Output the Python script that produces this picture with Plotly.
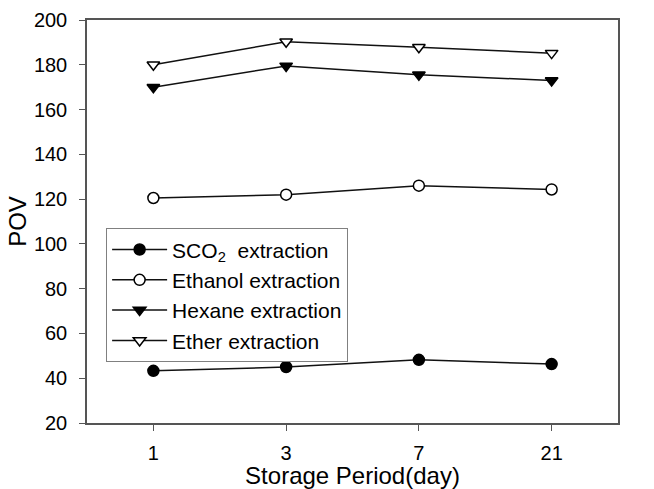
import plotly.graph_objects as go

days = ["1", "3", "7", "21"]
sco2 = [43.3, 45.0, 48.2, 46.3]
ethanol = [120.5, 122.0, 126.0, 124.3]
hexane = [170.0, 179.5, 175.5, 173.0]
ether = [180.0, 190.3, 187.8, 185.2]

series = [
    ("SCO<sub>2</sub>  extraction", sco2, "circle", True),
    ("Ethanol extraction", ethanol, "circle", False),
    ("Hexane extraction", hexane, "triangle-down", True),
    ("Ether extraction", ether, "triangle-down", False),
]

fig = go.Figure()
for name, vals, sym, filled in series:
    fig.add_trace(go.Scatter(
        x=days, y=vals, name=name, mode="lines+markers",
        line=dict(color="#111111", width=1.5),
        marker=dict(symbol=sym, size=11,
                    color="black" if filled else "white",
                    line=dict(color="black", width=1.5)),
    ))

font = "Liberation Sans, Arial, sans-serif"
fig.update_layout(
    width=654, height=489,
    margin=dict(l=87, r=36, t=20, b=66, autoexpand=False),
    paper_bgcolor="white", plot_bgcolor="white",
    font=dict(family=font, size=20, color="black"),
    showlegend=True,
    legend=dict(
        x=0.036, y=0.483, xanchor="left", yanchor="top",
        bgcolor="white", bordercolor="#808080", borderwidth=1,
        font=dict(family=font, size=21, color="black"),
        tracegroupgap=0, itemwidth=55,
    ),
    xaxis=dict(
        type="category", range=[-0.5, 3.5], automargin=False,
        showline=True, linecolor="#555555", linewidth=1.5, mirror=True,
        ticks="outside", ticklen=6, tickcolor="#555555", tickwidth=1,
        showgrid=False, zeroline=False, ticklabelstandoff=5,
        tickfont=dict(size=20),
        title=dict(text="Storage Period(day)", font=dict(size=24), standoff=3),
    ),
    yaxis=dict(
        range=[20, 200], tickvals=list(range(20, 201, 20)), automargin=False,
        showline=True, linecolor="#555555", linewidth=1.5, mirror=True,
        ticks="outside", ticklen=6, tickcolor="#555555", tickwidth=1,
        showgrid=False, zeroline=False, ticklabelstandoff=8,
        tickfont=dict(size=20),
        title=dict(text="POV", font=dict(size=24), standoff=0),
    ),
)

fig.write_html("out.html")
